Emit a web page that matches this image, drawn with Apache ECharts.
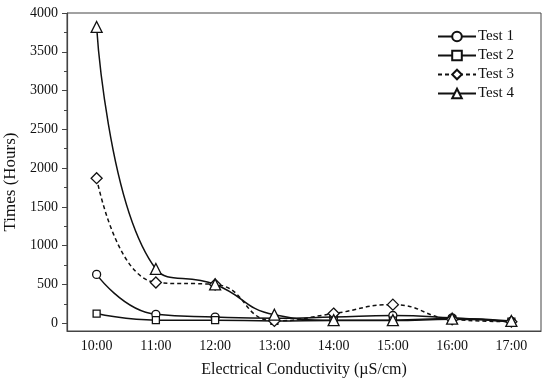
<!DOCTYPE html>
<html>
<head>
<meta charset="utf-8">
<script src="https://cdn.jsdelivr.net/npm/echarts@6/dist/echarts.min.js"></script>
<style>html,body{margin:0;padding:0;background:#fff;}#c{width:550px;height:386px;}</style>
</head>
<body>
<div id="c"></div>
<script>
var categories = ['10:00','11:00','12:00','13:00','14:00','15:00','16:00','17:00'];
var test1 = [630, 115, 80, 65, 80, 100, 70, 20];
var test2 = [125, 40, 40, 30, 35, 35, 50, 20];
var test3 = [1870, 525, 500, 30, 125, 240, 50, 20];
var test4 = [3820, 700, 500, 110, 40, 40, 60, 30];
var yMajorTicks = [0, 500, 1000, 1500, 2000, 2500, 3000, 3500, 4000];
var yMinorTicks = [250, 750, 1250, 1750, 2250, 2750, 3250, 3750];

var FONT = '"Liberation Serif", "Times New Roman", serif';
var AX = '#444';
var chart = echarts.init(document.getElementById('c'), null, {renderer: 'canvas'});

function mk(name, data, symbol, size, dashed) {
  return {
    name: name, type: 'line', data: data, smooth: 0.5,
    symbol: symbol, symbolSize: size, showAllSymbol: true,
    yAxisIndex: 0,
    lineStyle: {color: '#111', width: 1.5, type: dashed ? [4, 3] : 'solid'},
    itemStyle: {color: '#fff', borderColor: '#111', borderWidth: 1.3},
    emphasis: {disabled: true}
  };
}

chart.setOption({
  animation: false,
  backgroundColor: '#fff',
  grid: {left: 67, right: 9, top: 13, bottom: 55, show: true, borderColor: AX, borderWidth: 1,
    containLabel: false, outerBoundsMode: 'none'},
  legend: {
    orient: 'vertical', left: 432, top: 24,
    itemWidth: 38, itemHeight: 12, itemGap: 4,
    textStyle: {fontFamily: FONT, fontSize: 15, color: '#111', padding: [0, 0, 0, -3]},
    data: ['Test 1', 'Test 2', 'Test 3', 'Test 4']
  },
  xAxis: {
    type: 'category', data: categories, boundaryGap: true,
    name: 'Electrical Conductivity (\u00b5S/cm)', nameLocation: 'middle', nameGap: 31,
    nameTextStyle: {fontFamily: FONT, fontSize: 16, color: '#111'},
    axisLine: {onZero: false, lineStyle: {color: AX, width: 1.2}},
    axisTick: {alignWithLabel: true, length: 5, lineStyle: {color: AX}},
    axisLabel: {fontFamily: FONT, fontSize: 14, color: '#111', margin: 8},
    splitLine: {show: false}
  },
  yAxis: [{
    type: 'value', min: -100, max: 4000,
    name: 'Times (Hours)', nameLocation: 'middle', nameGap: 48,
    nameTextStyle: {fontFamily: FONT, fontSize: 17, color: '#111', padding: [0, 20, 0, 0]},
    axisLine: {show: true, onZero: false, lineStyle: {color: AX, width: 1.2}},
    axisTick: {show: true, length: 5, customValues: yMajorTicks, lineStyle: {color: AX}},
    axisLabel: {fontFamily: FONT, fontSize: 14, color: '#111', margin: 9, customValues: yMajorTicks,
      formatter: function (v) { return String(v); }},
    splitLine: {show: false}
  }, {
    type: 'value', min: -100, max: 4000, position: 'left',
    axisLine: {show: false, onZero: false},
    axisTick: {show: true, length: 3, customValues: yMinorTicks, lineStyle: {color: AX}},
    axisLabel: {show: false},
    splitLine: {show: false}
  }],
  series: [
    mk('Test 1', test1, 'circle', 8, false),
    mk('Test 2', test2, 'rect', 7, false),
    mk('Test 3', test3, 'diamond', 11, true),
    mk('Test 4', test4, 'triangle', 11, false)
  ]
});
</script>
</body>
</html>
